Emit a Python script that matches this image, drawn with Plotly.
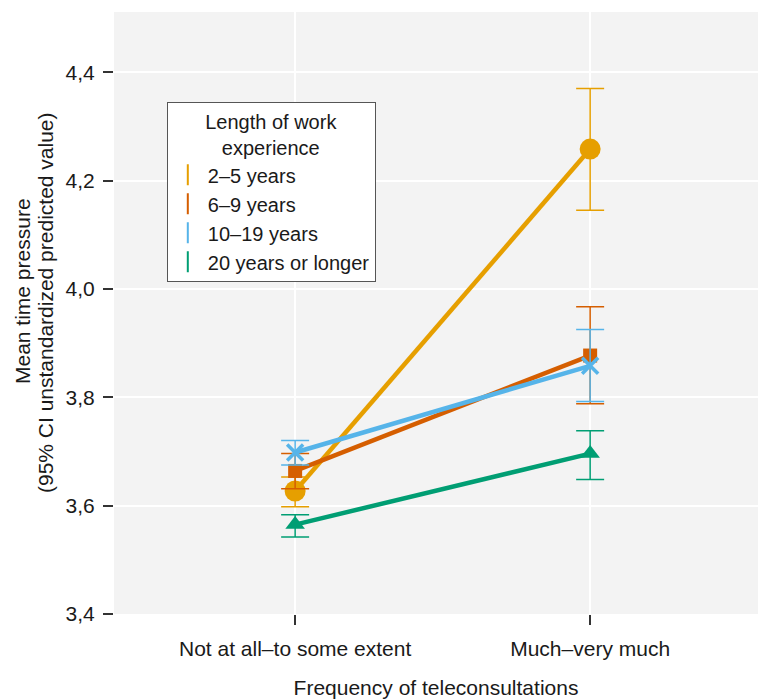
import plotly.graph_objects as go

categories = ["Not at all–to some extent", "Much–very much"]
groups = ["2–5 years", "6–9 years", "10–19 years", "20 years or longer"]
means = {
    "2–5 years": [3.627, 4.258],
    "6–9 years": [3.664, 3.877],
    "10–19 years": [3.698, 3.858],
    "20 years or longer": [3.565, 3.696],
}
upper = {
    "2–5 years": [3.653, 4.370],
    "6–9 years": [3.696, 3.967],
    "10–19 years": [3.720, 3.925],
    "20 years or longer": [3.583, 3.738],
}
lower = {
    "2–5 years": [3.598, 4.145],
    "6–9 years": [3.631, 3.788],
    "10–19 years": [3.675, 3.792],
    "20 years or longer": [3.542, 3.648],
}
y_ticks = [3.4, 3.6, 3.8, 4.0, 4.2, 4.4]

colors = {
    "2–5 years": "#E69F00",
    "6–9 years": "#D55E00",
    "10–19 years": "#56B4E9",
    "20 years or longer": "#009E73",
}
symbols = {
    "2–5 years": ("circle", 21, 0),
    "6–9 years": ("square", 14, 0),
    "10–19 years": ("x-thin", 16, 3.5),
    "20 years or longer": ("triangle-up", 17, 0),
}

FONT = "Liberation Sans, Arial, sans-serif"
FS = 21
xpos = list(range(len(categories)))

fig = go.Figure()
for g in groups:
    c = colors[g]
    sym, sz, lw = symbols[g]
    m = means[g]
    fig.add_trace(go.Scatter(
        x=xpos, y=m, mode="lines+markers", name=g, showlegend=False,
        line=dict(color=c, width=4.5),
        marker=dict(symbol=sym, size=sz, color=c, line=dict(color=c, width=lw)),
        error_y=dict(type="data", symmetric=False,
                     array=[u - v for u, v in zip(upper[g], m)],
                     arrayminus=[v - l for v, l in zip(m, lower[g])],
                     color=c, thickness=1.5, width=14),
    ))
for g in groups:
    fig.add_trace(go.Scatter(
        x=[None], y=[None], mode="markers", name=g, showlegend=True,
        marker=dict(symbol="line-ns", size=15, color=colors[g],
                    line=dict(color=colors[g], width=2)),
    ))

LFS = 20
fig.update_layout(
    width=758, height=699,
    margin=dict(l=114, r=0, t=12, b=85),
    paper_bgcolor="white", plot_bgcolor="#F3F3F3",
    separators=",.",
    font=dict(family=FONT, size=FS, color="#1a1a1a"),
    legend=dict(
        x=0.082, y=0.85, xanchor="left", yanchor="top",
        bgcolor="white", bordercolor="#555555", borderwidth=1,
        font=dict(family=FONT, size=LFS, color="#1a1a1a"),
        title=dict(text="Length of work<br>&nbsp;&nbsp;&nbsp;experience", side="top center",
                   font=dict(family=FONT, size=LFS, color="#1a1a1a")),
        itemwidth=30, tracegroupgap=0,
    ),
    showlegend=True,
)
fig.update_xaxes(
    tickvals=xpos, ticktext=categories, range=[-0.614, 1.569],
    showgrid=True, gridcolor="white", gridwidth=1.5, zeroline=False,
    ticks="outside", ticklen=10, tickwidth=1.5, tickcolor="#333333",
    tickfont=dict(family=FONT, size=FS, color="#1a1a1a"),
    ticklabelstandoff=6,
    title=dict(text="Frequency of teleconsultations", standoff=22,
               font=dict(family=FONT, size=FS, color="#1a1a1a")),
)
fig.update_yaxes(
    tickvals=y_ticks, tickformat=".1f", range=[3.4, 4.511],
    showgrid=True, gridcolor="white", gridwidth=1.5, zeroline=False,
    ticks="outside", ticklen=10, tickwidth=1.5, tickcolor="#333333",
    tickfont=dict(family=FONT, size=FS, color="#1a1a1a"),
    ticklabelstandoff=4,
)
fig.add_annotation(text="Mean time pressure", xref="paper", yref="paper",
                   x=-0.1429, y=0.5365, textangle=-90, showarrow=False,
                   xanchor="center", yanchor="middle",
                   font=dict(family=FONT, size=FS, color="#1a1a1a"))
fig.add_annotation(text="(95% CI unstandardized predicted value)", xref="paper", yref="paper",
                   x=-0.1071, y=0.5166, textangle=-90, showarrow=False,
                   xanchor="center", yanchor="middle",
                   font=dict(family=FONT, size=FS, color="#1a1a1a"))

fig.write_html("out.html", config={"displayModeBar": False},
               post_script="document.body.style.margin='0px';")
